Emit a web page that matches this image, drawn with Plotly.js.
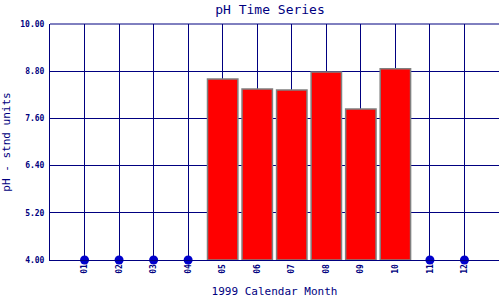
<!DOCTYPE html>
<html>
<head>
<meta charset="utf-8">
<script src="https://cdn.plot.ly/plotly-3.0.1.min.js"></script>
<style>html,body{margin:0;padding:0;background:#fff;}#chart{width:500px;height:300px;}</style>
</head>
<body>
<div id="chart"></div>
<script>
const months = [1,2,3,4,5,6,7,8,9,10,11,12];
const monthLabels = ["01","02","03","04","05","06","07","08","09","10","11","12"];
const barMonths = [5,6,7,8,9,10];
const phValues = [8.60, 8.35, 8.32, 8.78, 7.84, 8.86];
const missingMonths = [1,2,3,4,11,12];
const missingValues = [4,4,4,4,4,4];
const yTicks = [4.00, 5.20, 6.40, 7.60, 8.80, 10.00];

const navy = '#000080';
const font = 'DejaVu Sans Mono, Liberation Mono, monospace';

const traces = [
  {
    type: 'bar', x: barMonths, y: phValues.map(v => v - 4), base: 4,
    width: 0.88,
    marker: {color: '#ff0000', line: {color: '#808080', width: 1.5}},
    hoverinfo: 'skip'
  },
  {
    type: 'scatter', mode: 'markers', x: missingMonths, y: missingValues,
    marker: {color: '#0000cc', size: 9, symbol: 'circle'},
    cliponaxis: false
  }
];

const layout = {
  width: 500, height: 300,
  margin: {l: 50, r: 1, t: 24, b: 40},
  paper_bgcolor: '#ffffff', plot_bgcolor: '#ffffff',
  showlegend: false,
  font: {family: font, color: navy},
  title: {text: 'pH Time Series', font: {family: font, size: 13, color: navy}, x: 0.54, xanchor: 'center', y: 0.968, yanchor: 'middle'},
  xaxis: {
    range: [0, 13], tickvals: months, ticktext: monthLabels, tickangle: -90,
    tickfont: {family: font, size: 8, color: navy, weight: 'bold'},
    showgrid: true, gridcolor: navy, gridwidth: 1,
    showline: true, linecolor: navy, linewidth: 1,
    ticks: '', zeroline: false, fixedrange: true,
    title: {text: '1999 Calendar Month', font: {family: font, size: 11, color: navy}, standoff: 14}
  },
  yaxis: {
    range: [4, 10], tickvals: yTicks, ticktext: yTicks.map(v => v.toFixed(2)),
    tickfont: {family: font, size: 8, color: navy, weight: 'bold'},
    showgrid: true, gridcolor: navy, gridwidth: 1,
    showline: true, linecolor: navy, linewidth: 1, mirror: false,
    ticks: 'outside', ticklen: 3, tickcolor: 'rgba(0,0,0,0)', zeroline: false, fixedrange: true,
    title: {text: 'pH - stnd units', font: {family: font, size: 11, color: navy}, standoff: 8}
  },
  shapes: [
    {type: 'line', xref: 'paper', yref: 'paper', x0: 0, x1: 1, y0: 1, y1: 1, line: {color: navy, width: 1}}
  ]
};

Plotly.newPlot('chart', traces, layout, {displayModeBar: false, staticPlot: true});
</script>
</body>
</html>
